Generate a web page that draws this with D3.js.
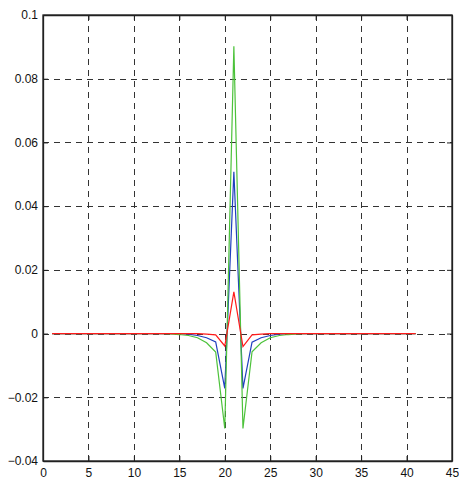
<!DOCTYPE html>
<html>
<head>
<meta charset="utf-8">
<script src="https://cdn.jsdelivr.net/npm/d3@7"></script>
<style>
  body { margin: 0; background: #fff; }
  .tick text { font-family: "Liberation Sans", Arial, sans-serif; font-size: 12px; fill: #111; }
</style>
</head>
<body>
<div id="chart"></div>
<script>
var svgWidth = 459;
var svgHeight = 480;

var margin = { top: 15, right: 7, bottom: 19, left: 43 };
var width = svgWidth - margin.left - margin.right;
var height = svgHeight - margin.top - margin.bottom;

// sample index 1..41
var xValues = d3.range(1, 42);

// non-zero samples around the pulse, everything else is 0
var blueNZ  = { 16: -0.0002, 17: -0.0006, 18: -0.0013, 19: -0.0026, 20: -0.0172, 21: 0.0508, 22: -0.0172, 23: -0.0027, 24: -0.0013, 25: -0.0006, 26: -0.0002 };
var greenNZ = { 14: -0.0001, 15: -0.0003, 16: -0.0006, 17: -0.0013, 18: -0.0029, 19: -0.0058, 20: -0.0298, 21: 0.0902, 22: -0.0298, 23: -0.0057, 24: -0.0029, 25: -0.0013, 26: -0.0006, 27: -0.0003, 28: -0.0001 };
var redNZ   = { 18: -0.0002, 19: -0.0004, 20: -0.0039, 21: 0.0131, 22: -0.0041, 23: -0.0004, 24: -0.0002 };

var xTicks = d3.range(0, 46, 5);
var yTicks = [-0.04, -0.02, 0, 0.02, 0.04, 0.06, 0.08, 0.1];

var series = [
  { name: "blue", color: "#1f3fbf", values: xValues.map(x => blueNZ[x] || 0) },
  { name: "green", color: "#4cc23a", values: xValues.map(x => greenNZ[x] || 0) },
  { name: "red", color: "#ff1a1a", values: xValues.map(x => redNZ[x] || 0) }
];

var svg = d3.select("#chart")
  .append("svg")
  .attr("width", svgWidth)
  .attr("height", svgHeight);

var chartGroup = svg.append("g")
  .attr("transform", `translate(${margin.left}, ${margin.top})`);

var xScale = d3.scaleLinear().domain([0, 45]).range([0, width]);
var yScale = d3.scaleLinear().domain([-0.04, 0.1]).range([height, 0]);

// dashed grid
chartGroup.append("g").selectAll("line")
  .data(xTicks.slice(1, -1))
  .enter().append("line")
  .attr("x1", d => Math.round(xScale(d)) + 0.5)
  .attr("x2", d => Math.round(xScale(d)) + 0.5)
  .attr("y1", 0).attr("y2", height)
  .attr("stroke", "#333").attr("stroke-dasharray", "6,5");

chartGroup.append("g").selectAll("line")
  .data(yTicks.slice(1, -1))
  .enter().append("line")
  .attr("y1", d => Math.round(yScale(d)) + 0.5)
  .attr("y2", d => Math.round(yScale(d)) + 0.5)
  .attr("x1", 0).attr("x2", width)
  .attr("stroke", "#333").attr("stroke-dasharray", "6,5");

// lines
var line = d3.line()
  .x((d, i) => xScale(xValues[i]))
  .y(d => yScale(d));

chartGroup.selectAll(".series")
  .data(series)
  .enter().append("path")
  .attr("class", "series")
  .attr("fill", "none")
  .attr("stroke", d => d.color)
  .attr("stroke-width", 1.2)
  .attr("d", d => line(d.values));

// axes, ticks pointing inward
var bottomAxis = d3.axisBottom(xScale).tickValues(xTicks).tickSizeInner(-5).tickSizeOuter(0).tickPadding(7);
var leftAxis = d3.axisLeft(yScale).tickValues(yTicks).tickSizeInner(-5).tickSizeOuter(0).tickPadding(5)
  .tickFormat(d => d3.format("~g")(+d.toFixed(2)));
var topAxis = d3.axisTop(xScale).tickValues(xTicks).tickSizeInner(-5).tickSizeOuter(0).tickFormat("");
var rightAxis = d3.axisRight(yScale).tickValues(yTicks).tickSizeInner(-5).tickSizeOuter(0).tickFormat("");

chartGroup.append("g").attr("transform", `translate(0, ${height})`).call(bottomAxis);
chartGroup.append("g").call(leftAxis);
chartGroup.append("g").call(topAxis);
chartGroup.append("g").attr("transform", `translate(${width}, 0)`).call(rightAxis);

chartGroup.selectAll(".domain").attr("stroke", "#222").attr("stroke-width", 1.3);
chartGroup.selectAll(".tick line").attr("stroke", "#222");

// frame
chartGroup.append("rect")
  .attr("width", width).attr("height", height)
  .attr("fill", "none").attr("stroke", "#222").attr("stroke-width", 1.3);
</script>
</body>
</html>
